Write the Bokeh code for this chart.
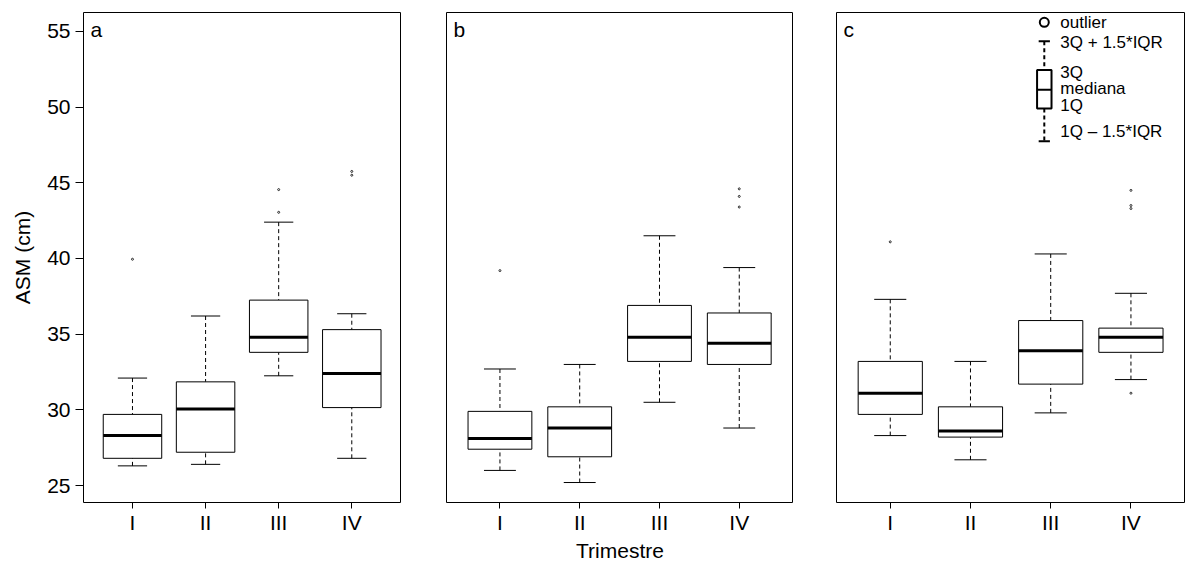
import numpy as np
from bokeh.plotting import figure
from bokeh.layouts import row
from bokeh.models import Label, FixedTicker, Range1d
from bokeh.embed import file_html
from bokeh.resources import INLINE

# data per panel: lower whisker, Q1, median, Q3, upper whisker, outliers
quarters = ["I", "II", "III", "IV"]
panels = ["a", "b", "c"]
low = {"a": [26.3, 26.4, 32.25, 26.8], "b": [26.0, 25.2, 30.5, 28.8], "c": [28.3, 26.7, 29.8, 32.0]}
q1 = {"a": [26.8, 27.2, 33.8, 30.15], "b": [27.4, 26.9, 33.2, 33.0], "c": [29.7, 28.2, 31.7, 33.8]}
med = {"a": [28.3, 30.05, 34.8, 32.4], "b": [28.1, 28.8, 34.8, 34.4], "c": [31.1, 28.6, 33.9, 34.8]}
q3 = {"a": [29.7, 31.85, 37.25, 35.3], "b": [29.9, 30.2, 36.9, 36.4], "c": [33.2, 30.2, 35.9, 35.4]}
high = {"a": [32.1, 36.2, 42.4, 36.35], "b": [32.7, 33.0, 41.5, 39.4], "c": [37.3, 33.2, 40.3, 37.7]}
outliers = {
    "a": [[39.95], [], [43.05, 44.55], [45.5, 45.75]],
    "b": [[39.2], [], [], [43.4, 44.1, 44.6]],
    "c": [[41.1], [], [], [31.1, 43.3, 43.5, 44.5]],
}

FONT = "Liberation Sans"
# left border, frame width
borders = {"a": (83, 318), "b": (45, 347), "c": (43, 349)}
figs = []
for name in panels:
    left, fw = borders[name]
    p = figure(frame_width=fw, frame_height=490, output_backend="svg", toolbar_location=None,
               x_range=Range1d(0.33, 4.68), y_range=Range1d(23.88, 56.25),
               min_border_left=left, min_border_right=0, min_border_top=12,
               min_border_bottom=58)
    p.grid.visible = False
    p.outline_line_color = "black"
    p.outline_line_width = 1
    p.outline_line_alpha = 1
    p.background_fill_color = "white"
    p.border_fill_color = "white"

    x = np.arange(1, 5)
    p.segment(x, high[name], x, q3[name], line_color="black", line_dash="4 3")
    p.segment(x, low[name], x, q1[name], line_color="black", line_dash="4 3")
    p.segment(x - 0.2, high[name], x + 0.2, high[name], line_color="black")
    p.segment(x - 0.2, low[name], x + 0.2, low[name], line_color="black")
    p.quad(left=x - 0.4, right=x + 0.4, bottom=q1[name], top=q3[name],
           fill_color="white", line_color="black")
    p.segment(x - 0.4, med[name], x + 0.4, med[name], line_color="black", line_width=3)
    ox = [i + 1 for i, o in enumerate(outliers[name]) for _ in o]
    oy = [v for o in outliers[name] for v in o]
    p.scatter(ox, oy, size=2, fill_color=None, line_color="black", line_width=0.8)

    p.xaxis.ticker = FixedTicker(ticks=[1, 2, 3, 4])
    p.xaxis.major_label_overrides = {i + 1: q for i, q in enumerate(quarters)}
    p.xaxis.minor_tick_line_color = None
    p.xaxis.axis_line_color = None
    p.xaxis.major_tick_in = 0
    p.xaxis.major_tick_out = 6
    p.xaxis.major_label_standoff = 2
    p.xaxis.major_label_text_font = FONT
    p.xaxis.major_label_text_font_size = "21px"
    p.xaxis.major_label_text_color = "black"
    if name == "b":
        p.xaxis.axis_label = "Trimestre"
        p.xaxis.axis_label_text_font = FONT
        p.xaxis.axis_label_text_font_size = "21px"
        p.xaxis.axis_label_text_font_style = "normal"
        p.xaxis.axis_label_text_color = "black"
        p.xaxis.axis_label_standoff = 2
    if name == "a":
        p.yaxis.ticker = FixedTicker(ticks=[25, 30, 35, 40, 45, 50, 55])
        p.yaxis.minor_tick_line_color = None
        p.yaxis.axis_line_color = None
        p.yaxis.major_tick_in = 0
        p.yaxis.major_tick_out = 8
        p.yaxis.major_label_text_font = FONT
        p.yaxis.major_label_text_font_size = "21px"
        p.yaxis.major_label_text_color = "black"
        p.yaxis.axis_label = "ASM (cm)"
        p.yaxis.axis_label_text_font = FONT
        p.yaxis.axis_label_text_font_size = "21px"
        p.yaxis.axis_label_text_font_style = "normal"
        p.yaxis.axis_label_text_color = "black"
        p.yaxis.axis_label_standoff = 10
    else:
        p.yaxis.visible = False

    p.add_layout(Label(x=7, y=462, x_units="screen", y_units="screen", text=name,
                       text_font=FONT, text_font_size="21px", text_color="black"))

    if name == "c":
        # legend key
        kx, tx = 2.92, 3.12
        p.scatter([kx], [55.6], size=9, fill_color=None, line_color="black", line_width=2)
        p.segment([kx - 0.07, kx - 0.07], [54.35, 47.75], [kx + 0.07, kx + 0.07], [54.35, 47.75],
                  line_color="black", line_width=2)
        p.segment([kx, kx], [54.35, 49.9], [kx, kx], [52.45, 47.75], line_color="black",
                  line_width=2, line_dash="4 3")
        p.quad(left=[kx - 0.09], right=[kx + 0.09], bottom=[49.9], top=[52.45],
               fill_color="white", line_color="black", line_width=2)
        p.segment([kx - 0.09], [51.15], [kx + 0.09], [51.15], line_color="black", line_width=2)
        for txt, yy in [("outlier", 55.6), ("3Q + 1.5*IQR", 54.3), ("3Q", 52.3),
                        ("mediana", 51.2), ("1Q", 50.1), ("1Q \u2013 1.5*IQR", 48.4)]:
            p.text([tx], [yy], text=[txt], text_font={"value": FONT}, text_font_size="17px",
                   text_baseline="middle", text_color="black")
    figs.append(p)

layout = row(*figs, spacing=0)
open("out.html", "w").write(file_html(layout, INLINE))
